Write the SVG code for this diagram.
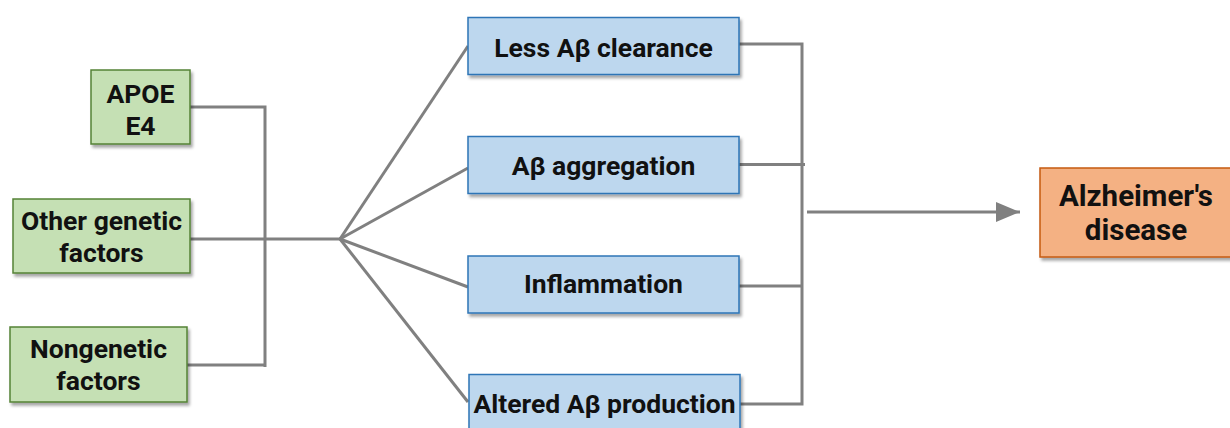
<svg xmlns="http://www.w3.org/2000/svg" width="1230" height="428" viewBox="0 0 1230 428">
  <defs>
    <filter id="shadow" x="-10%" y="-10%" width="130%" height="140%">
      <feDropShadow dx="2" dy="3" stdDeviation="1.5" flood-color="#000" flood-opacity="0.35"/>
    </filter>
    <marker id="arrow" viewBox="0 0 24 20" refX="24" refY="10" markerWidth="24" markerHeight="20" markerUnits="userSpaceOnUse" orient="auto">
      <path d="M0,0 L24,10 L0,20 Z" fill="#808080"/>
    </marker>
    <style>
      .green { fill: #c5e0b4; stroke: #548235; stroke-width: 1.5; filter: url(#shadow); }
      .blue { fill: #bdd7ee; stroke: #2e75b6; stroke-width: 1.5; filter: url(#shadow); }
      .orange { fill: #f4b183; stroke: #c55a11; stroke-width: 1.5; filter: url(#shadow); }
      .label { font-family: Roboto, "Liberation Sans", sans-serif; font-weight: bold; font-size: 26.5px; fill: #111; text-anchor: middle; }
      .big { font-size: 29.5px; }
      .wire { fill: none; stroke: #808080; stroke-width: 3; }
    </style>
  </defs>
  <rect width="1230" height="428" fill="#fff"/>

  <!-- connectors -->
  <g id="connectors">
    <!-- risk factors joined into one trunk -->
    <polyline class="wire" points="190,107 265,107 265,367"/>
    <line class="wire" x1="187" y1="365" x2="265" y2="365"/>
    <line class="wire" x1="190" y1="239" x2="340" y2="239"/>
    <!-- fan out to mechanisms -->
    <line class="wire" x1="340" y1="239" x2="468" y2="46"/>
    <line class="wire" x1="340" y1="239" x2="468" y2="168"/>
    <line class="wire" x1="340" y1="239" x2="468" y2="287"/>
    <line class="wire" x1="340" y1="239" x2="468" y2="402"/>
    <!-- mechanisms gathered on the right -->
    <polyline class="wire" points="739,44 802,44 802,404 739,404"/>
    <line class="wire" x1="739" y1="164.5" x2="805" y2="164.5"/>
    <line class="wire" x1="739" y1="286" x2="802" y2="286"/>
    <line class="wire" x1="807" y1="212" x2="1020" y2="212" marker-end="url(#arrow)"/>
  </g>

  <g id="apoe">
    <rect class="green" x="91" y="70" width="99" height="74"/>
    <text class="label" x="140.5" y="103">APOE</text>
    <text class="label" x="140.5" y="135">E4</text>
  </g>
  <g id="other-genetic">
    <rect class="green" x="13" y="199" width="177" height="74"/>
    <text class="label" x="101.5" y="230">Other genetic</text>
    <text class="label" x="101.5" y="262">factors</text>
  </g>
  <g id="nongenetic">
    <rect class="green" x="10" y="327" width="177" height="75"/>
    <text class="label" x="98.5" y="358">Nongenetic</text>
    <text class="label" x="98.5" y="390">factors</text>
  </g>

  <g id="clearance">
    <rect class="blue" x="468" y="17.5" width="271" height="57"/>
    <text class="label" x="603.5" y="57">Less Aβ clearance</text>
  </g>
  <g id="aggregation">
    <rect class="blue" x="468" y="136.5" width="271" height="57"/>
    <text class="label" x="603.5" y="175">Aβ aggregation</text>
  </g>
  <g id="inflammation">
    <rect class="blue" x="468" y="256" width="271" height="57"/>
    <text class="label" x="603.5" y="293">Inflammation</text>
  </g>
  <g id="production">
    <rect class="blue" x="469" y="374.5" width="271" height="58"/>
    <text class="label" x="604.5" y="413">Altered Aβ production</text>
  </g>

  <g id="alzheimers">
    <rect class="orange" x="1040" y="168" width="195" height="89"/>
    <text class="label big" x="1136" y="206">Alzheimer's</text>
    <text class="label big" x="1136" y="240">disease</text>
  </g>
</svg>
